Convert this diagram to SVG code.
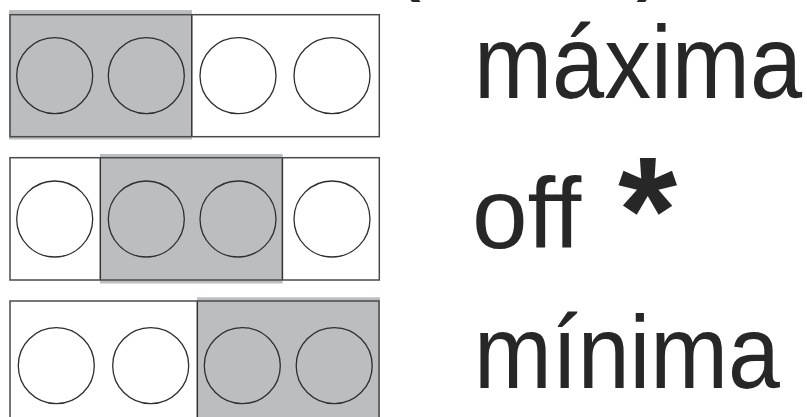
<svg xmlns="http://www.w3.org/2000/svg" width="807" height="417" viewBox="0 0 807 417">
<style>
.bg{fill:#ffffff}
.box{fill:none;stroke:#4a4a4a;stroke-width:1.5}
.sh{fill:#bcbdbf}
.div{stroke:#333333;stroke-width:1.5}
.c{fill:none;stroke:#2e2e2e;stroke-width:1.3}
.t{font-family:"Liberation Sans",Arial,sans-serif;fill:#272727}
</style>
<rect class="bg" x="0" y="0" width="807" height="417"/>
<g id="top-parens">
<text class="t" x="388" y="-19" font-size="100">(</text>
<text class="t" x="636" y="-19" font-size="100">)</text>
</g>
<g id="row-maxima">
<rect class="sh" x="9" y="10" width="183" height="129.5"/>
<line class="div" x1="191.8" y1="14.7" x2="191.8" y2="136.7"/>
<rect class="box" x="10" y="14.7" width="369.3" height="122"/>
<circle class="c" cx="54.7" cy="75.7" r="38"/>
<circle class="c" cx="146.3" cy="75.7" r="38"/>
<circle class="c" cx="238" cy="75.7" r="38"/>
<circle class="c" cx="332" cy="75.7" r="38"/>
<text class="t" x="474" y="98" font-size="103" textLength="328" lengthAdjust="spacingAndGlyphs">máxima</text>
</g>
<g id="row-off">
<rect class="sh" x="100" y="154" width="182.7" height="129.5"/>
<line class="div" x1="100.3" y1="157.7" x2="100.3" y2="280"/>
<line class="div" x1="282.4" y1="157.7" x2="282.4" y2="280"/>
<rect class="box" x="10" y="157.7" width="369.3" height="122.3"/>
<circle class="c" cx="54.7" cy="219" r="38"/>
<circle class="c" cx="146.3" cy="219" r="38"/>
<circle class="c" cx="238" cy="219" r="38"/>
<circle class="c" cx="332" cy="219" r="38"/>
<text class="t" x="472" y="248" font-size="100">off</text>
<text class="t" x="618" y="263" font-size="152" font-weight="bold">*</text>
</g>
<g id="row-minima">
<rect class="sh" x="197" y="297.3" width="183" height="130"/>
<line class="div" x1="197.3" y1="301" x2="197.3" y2="417"/>
<rect class="box" x="10" y="301" width="369" height="125"/>
<circle class="c" cx="56.3" cy="365.7" r="38"/>
<circle class="c" cx="150.7" cy="365.7" r="38"/>
<circle class="c" cx="242.3" cy="365.7" r="38"/>
<circle class="c" cx="334.2" cy="365.7" r="38"/>
<text class="t" x="474" y="388" font-size="103" textLength="306" lengthAdjust="spacingAndGlyphs">mínima</text>
</g>
<g id="connectors"/>
</svg>
